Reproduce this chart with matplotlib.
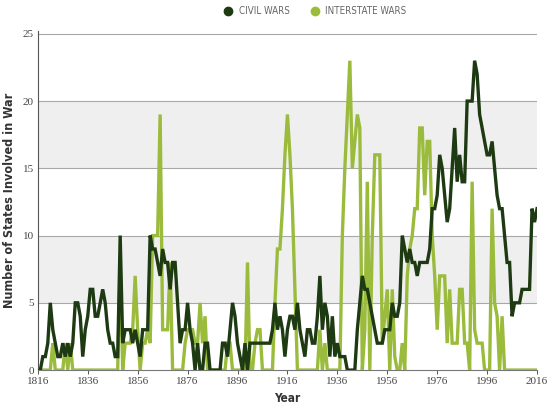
import matplotlib
matplotlib.use("Agg")
import matplotlib.pyplot as plt
from matplotlib.lines import Line2D
import numpy as np

years = list(range(1816, 2017))

civil_wars = [
    0, 0, 1, 1, 2, 5, 3, 2, 1, 1,          # 1816-1825
    2, 1, 2, 1, 2, 5, 5, 4, 1, 3,          # 1826-1835
    4, 6, 6, 4, 4, 5, 6, 5, 3, 2,          # 1836-1845
    2, 1, 1, 10, 2, 3, 3, 3, 2, 3,         # 1846-1855
    2, 1, 3, 3, 3, 10, 9, 9, 8, 7,         # 1856-1865
    9, 8, 8, 6, 8, 8, 5, 2, 3, 3,          # 1866-1875
    5, 3, 2, 0, 2, 0, 0, 2, 2, 0,          # 1876-1885
    0, 0, 0, 0, 2, 2, 1, 3, 5, 4,          # 1886-1895
    2, 1, 0, 2, 0, 2, 2, 2, 2, 2,          # 1896-1905
    2, 2, 2, 2, 3, 5, 3, 4, 3, 1,          # 1906-1915
    3, 4, 4, 3, 5, 3, 2, 1, 3, 3,          # 1916-1925
    2, 2, 4, 7, 3, 5, 4, 1, 4, 1,          # 1926-1935
    2, 1, 1, 1, 0, 0, 0, 0, 3, 5,          # 1936-1945
    7, 6, 6, 5, 4, 3, 2, 2, 2, 3,          # 1946-1955
    3, 3, 5, 4, 4, 5, 10, 9, 8, 9,         # 1956-1965
    8, 8, 7, 8, 8, 8, 8, 9, 12, 12,        # 1966-1975
    13, 16, 15, 13, 11, 12, 15, 18, 14, 16, # 1976-1985
    14, 14, 20, 20, 20, 23, 22, 19, 18, 17, # 1986-1995
    16, 16, 17, 15, 13, 12, 12, 10, 8, 8,  # 1996-2005
    4, 5, 5, 5, 6, 6, 6, 6, 12, 11,        # 2006-2015
    12,                                    # 2016
]

interstate_wars = [
    0, 0, 0, 0, 0, 0, 2, 0, 0, 0,          # 1816-1825
    0, 2, 0, 2, 0, 0, 0, 0, 0, 0,          # 1826-1835
    0, 0, 0, 0, 0, 0, 0, 0, 0, 0,          # 1836-1845
    0, 0, 0, 8, 0, 2, 2, 2, 3, 7,          # 1846-1855
    3, 0, 2, 2, 3, 2, 10, 10, 10, 19,      # 1856-1865
    3, 3, 3, 8, 0, 0, 0, 0, 0, 2,          # 1866-1875
    3, 3, 3, 2, 2, 5, 2, 4, 0, 0,          # 1876-1885
    0, 0, 0, 0, 0, 0, 2, 2, 0, 0,          # 1886-1895
    0, 0, 0, 0, 8, 0, 0, 2, 3, 3,          # 1896-1905
    0, 0, 0, 0, 0, 5, 9, 9, 12, 16,        # 1906-1915
    19, 16, 12, 6, 0, 0, 0, 0, 0, 0,       # 1916-1925
    0, 0, 0, 3, 0, 2, 0, 0, 0, 0,          # 1926-1935
    0, 0, 10, 15, 19, 23, 15, 17, 19, 18,  # 1936-1945
    0, 3, 14, 0, 10, 16, 16, 16, 2, 4,     # 1946-1955
    6, 0, 6, 1, 0, 0, 2, 0, 7, 9,          # 1956-1965
    10, 12, 12, 18, 18, 13, 17, 17, 10, 7, # 1966-1975
    3, 7, 7, 7, 2, 6, 2, 2, 2, 6,          # 1976-1985
    6, 2, 2, 0, 14, 3, 2, 2, 2, 0,         # 1986-1995
    0, 0, 12, 5, 4, 0, 4, 0, 0, 0,         # 1996-2005
    0, 0, 0, 0, 0, 0, 0, 0, 0, 0,          # 2006-2015
    0,                                     # 2016
]

x_ticks = [1816, 1836, 1856, 1876, 1896, 1916, 1936, 1956, 1976, 1996, 2016]
y_ticks = [0, 5, 10, 15, 20, 25]
series_labels = ["CIVIL WARS", "INTERSTATE WARS"]

dark = "#1d3a12"
light = "#9bbb3c"

fig = plt.figure(figsize=(5.48, 4.04), dpi=100)
ax = fig.add_axes([0.069, 0.084, 0.911, 0.839])

# shaded bands
for lo, hi in [(5, 10), (15, 20)]:
    ax.axhspan(lo, hi, color="#efefef", zorder=0, lw=0)
for yv in y_ticks[1:]:
    ax.axhline(yv, color="#a8a8a8", lw=0.8, zorder=1)

ax.plot(years, interstate_wars, color=light, lw=2.4, zorder=3, solid_joinstyle="miter")
ax.plot(years, civil_wars, color=dark, lw=2.4, zorder=4, solid_joinstyle="miter")

ax.set_xlim(1816, 2016)
ax.set_ylim(0, 25.2)
ax.set_xticks(x_ticks)
ax.set_yticks(y_ticks)
serif = "Liberation Serif"
ax.set_xticklabels([str(t) for t in x_ticks], fontsize=8, family=serif, color="#444444")
ax.set_yticklabels([str(t) for t in y_ticks], fontsize=8, family=serif, color="#444444")
ax.tick_params(axis="x", length=3, width=0.7, color="#555555", pad=2)
ax.tick_params(axis="y", length=0, pad=3)

for s in ["top", "right"]:
    ax.spines[s].set_visible(False)
ax.spines["left"].set_color("#555555")
ax.spines["left"].set_linewidth(0.8)
ax.spines["bottom"].set_color("#777777")
ax.spines["bottom"].set_linewidth(0.8)

lab_font = ["DejaVu Sans"]
ax.set_xlabel("Year", fontsize=8.5, fontweight="bold", family=lab_font, fontstretch="condensed",
              color="#333333", labelpad=4)
ax.set_ylabel("Number of States Involved in War", fontsize=9, fontweight="bold",
              family=lab_font, fontstretch="condensed", color="#333333", labelpad=5)

handles = [
    Line2D([], [], marker="o", linestyle="none", markersize=6, color=dark),
    Line2D([], [], marker="o", linestyle="none", markersize=6, color=light),
]
leg = fig.legend(handles, series_labels, loc="center", bbox_to_anchor=(0.57, 0.973),
                 ncol=2, frameon=False, handletextpad=0.1, columnspacing=1.6,
                 prop={"family": "DejaVu Sans", "stretch": "condensed", "size": 7})
for t in leg.get_texts():
    t.set_color("#666666")

fig.savefig("out.png", dpi=100)
